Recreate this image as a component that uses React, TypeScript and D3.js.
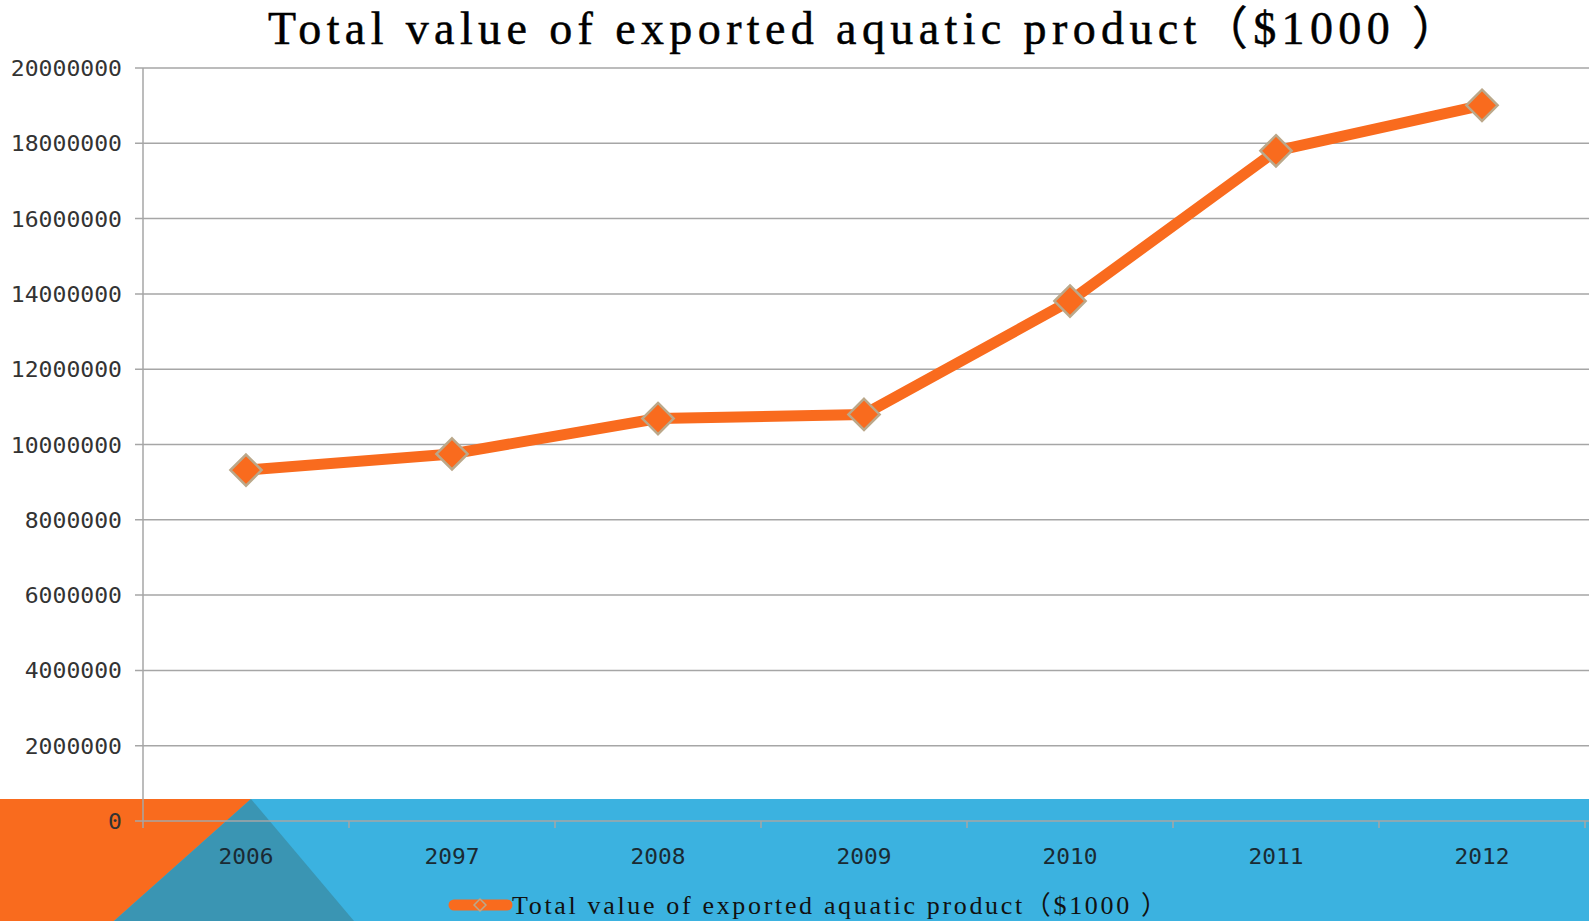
import React from 'react';
import * as d3 from 'd3';

const years = ['2006', '2097', '2008', '2009', '2010', '2011', '2012'];
const exportValues = [9320000, 9750000, 10690000, 10800000, 13810000, 17800000, 19010000];
const yTicks = [0, 2000000, 4000000, 6000000, 8000000, 10000000, 12000000, 14000000, 16000000, 18000000, 20000000];
const title = 'Total value of exported aquatic product（$1000 ）';

const W = 1589;
const H = 921;
const margin = { top: 68, right: 4, bottom: 100, left: 143 };

const orange = '#f96b1e';
const blue = '#3bb2e0';
const teal = '#3a95b3';

const App = () => {
  const x = d3
    .scaleBand()
    .domain(years)
    .range([margin.left, W - margin.right]);

  const y = d3
    .scaleLinear()
    .domain([0, 20000000])
    .range([H - margin.bottom, margin.top]);

  const cx = (d: string) => (x(d) as number) + x.bandwidth() / 2;

  const line = d3
    .line<number>()
    .x((_, i) => cx(years[i]))
    .y((d) => y(d));

  const bandTop = 799;
  const diamond = d3.symbol().type(d3.symbolDiamond2).size(620)();

  return (
    <svg width={W} height={H} style={{ position: 'absolute', left: 0, top: 0 }}>
      {/* background band */}
      <rect x={0} y={bandTop} width={W} height={H - bandTop} fill={blue} />
      <polygon points={`0,${bandTop} 251,${bandTop} 114,${H} 0,${H}`} fill={orange} />
      <polygon points={`251,${bandTop} 354,${H} 114,${H}`} fill={teal} />

      <text
        x={268}
        y={44}
        fontFamily="'Liberation Serif', 'Noto Sans CJK SC', serif"
        fontSize={46}
        textLength={1190}
        lengthAdjust="spacing"
        fill="#000"
        stroke="#000"
        strokeWidth={0.5}
      >
        {title}
      </text>

      {/* gridlines + y labels */}
      {yTicks.map((t) => (
        <g key={t}>
          <line x1={135} x2={W} y1={y(t)} y2={y(t)} stroke="#a6a6a6" strokeWidth={1.5} />
          <text
            x={122}
            y={y(t) + 8}
            textAnchor="end"
            fontFamily="'DejaVu Sans Mono', monospace"
            fontSize={22}
            textLength={String(t).length * 13.9}
            lengthAdjust="spacingAndGlyphs"
            fill="#333"
          >
            {t}
          </text>
        </g>
      ))}

      {/* y axis line */}
      <line x1={margin.left} x2={margin.left} y1={margin.top} y2={y(0) + 7} stroke="#a6a6a6" strokeWidth={1.5} />

      {/* x ticks */}
      {years.map((yr) => (
        <line
          key={'t' + yr}
          x1={(x(yr) as number) + x.bandwidth()}
          x2={(x(yr) as number) + x.bandwidth()}
          y1={y(0)}
          y2={y(0) + 7}
          stroke="#a6a6a6"
          strokeWidth={1.5}
        />
      ))}
      {years.map((yr) => (
        <text
          key={'l' + yr}
          x={cx(yr)}
          y={y(0) + 43}
          textAnchor="middle"
          fontFamily="'DejaVu Sans Mono', monospace"
          fontSize={22}
          textLength={55}
          lengthAdjust="spacingAndGlyphs"
          fill="#1a2a33"
        >
          {yr}
        </text>
      ))}

      {/* series */}
      <path d={line(exportValues) as string} fill="none" stroke={orange} strokeWidth={11} strokeLinejoin="round" />
      {exportValues.map((v, i) => (
        <path
          key={i}
          d={diamond as string}
          transform={`translate(${cx(years[i])},${y(v)})`}
          fill={orange}
          stroke="#bba88a"
          strokeWidth={2.5}
        />
      ))}

      {/* legend */}
      <line x1={454} x2={507} y1={905} y2={905} stroke={orange} strokeWidth={11} strokeLinecap="round" />
      <path
        d={d3.symbol().type(d3.symbolDiamond2).size(90)() as string}
        transform="translate(480,905)"
        fill={orange}
        stroke="#bba88a"
        strokeWidth={1.5}
      />
      <text
        x={512}
        y={914}
        fontFamily="'Liberation Serif', 'Noto Sans CJK SC', serif"
        fontSize={26}
        textLength={655}
        lengthAdjust="spacing"
        fill="#111"
      >
        {title}
      </text>
    </svg>
  );
};

export default App;
